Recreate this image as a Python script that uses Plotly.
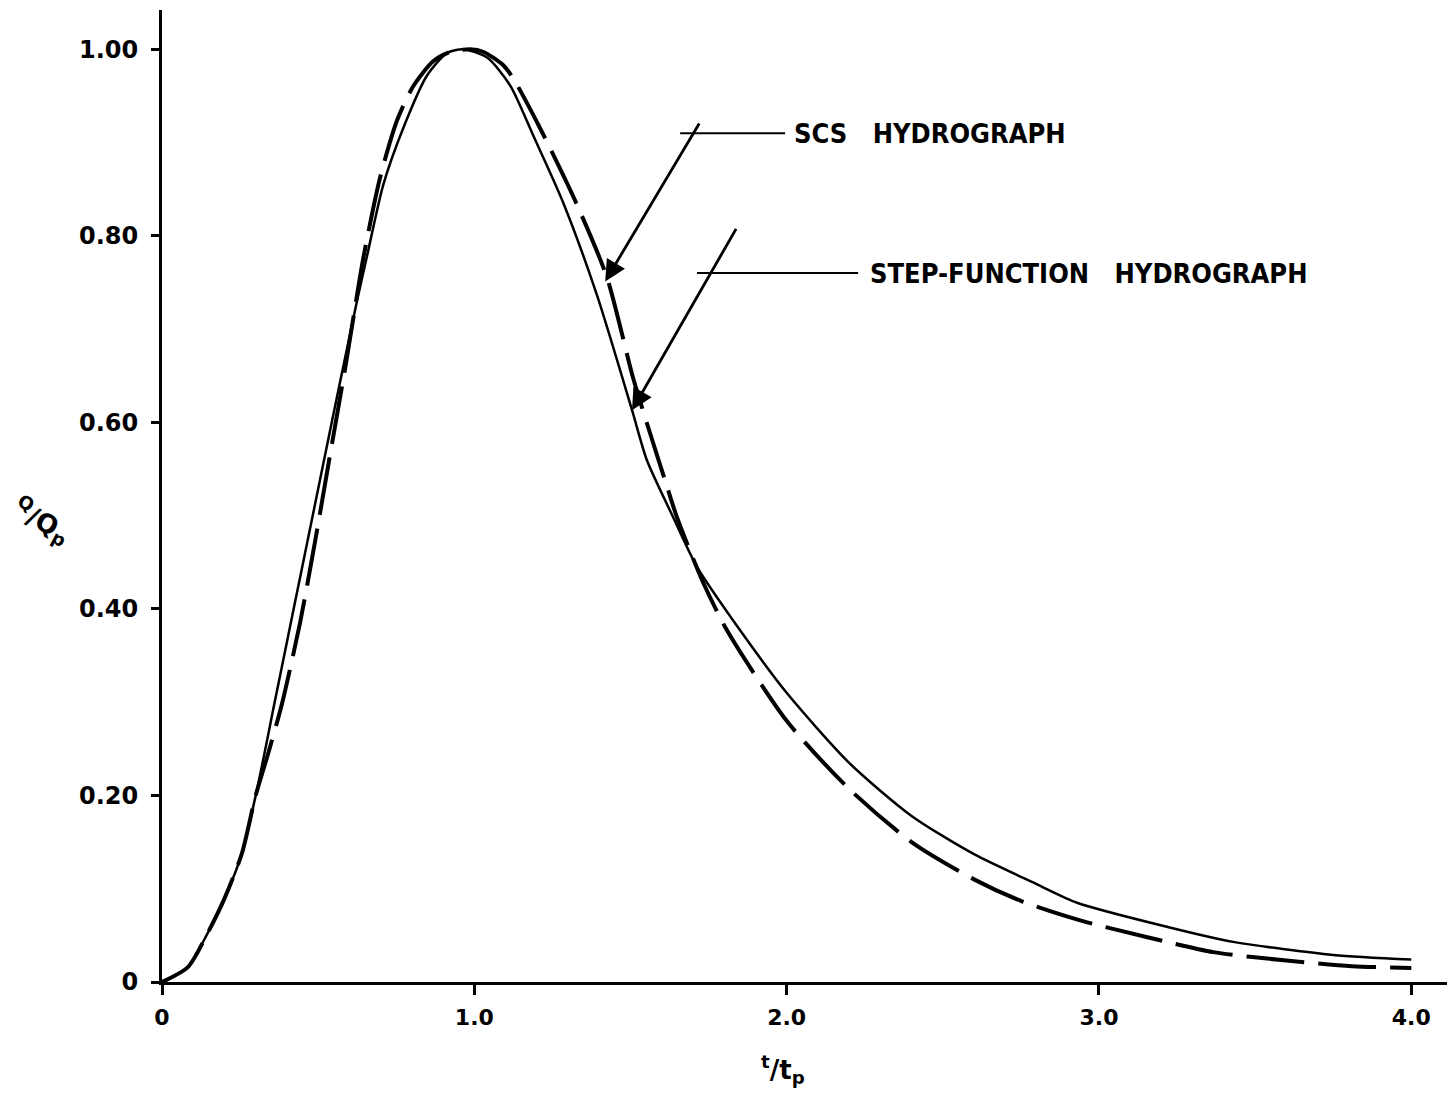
import plotly.graph_objects as go

# Step-function hydrograph (solid line)
step_t = [0, 0.083, 0.147, 0.202, 0.256, 0.304, 0.362, 0.427, 0.471, 0.521, 0.565, 0.625, 0.657,
          0.708, 0.772, 0.849, 0.913, 0.964, 1.041, 1.115, 1.188, 1.284, 1.393, 1.505, 1.553,
          1.637, 1.713, 1.851, 2.0, 2.2, 2.4, 2.6, 2.8, 2.93, 3.22, 3.43, 3.75, 4.0]
step_q = [0, 0.016, 0.053, 0.091, 0.138, 0.206, 0.302, 0.409, 0.481, 0.563, 0.635, 0.731, 0.779,
          0.854, 0.915, 0.972, 0.996, 1.0, 0.991, 0.961, 0.908, 0.836, 0.736, 0.613, 0.559,
          0.498, 0.445, 0.377, 0.31, 0.235, 0.178, 0.137, 0.105, 0.085, 0.059, 0.043, 0.029, 0.024]

# SCS hydrograph (dashed line)
scs_t = [0, 0.083, 0.147, 0.202, 0.256, 0.300, 0.340, 0.384, 0.442, 0.490, 0.538, 0.590, 0.644, 0.698,
         0.753, 0.804, 0.868, 0.922, 0.986, 1.03, 1.092, 1.124, 1.211, 1.329, 1.425, 1.508, 1.563,
         1.617, 1.649, 1.733, 1.809, 2.0, 2.2, 2.4, 2.6, 2.757, 2.94, 3.155, 3.366, 3.60, 3.81, 4.0]
scs_q = [0, 0.016, 0.053, 0.091, 0.138, 0.200, 0.245, 0.298, 0.385, 0.472, 0.565, 0.665, 0.775, 0.862,
         0.924, 0.960, 0.987, 0.997, 1.0, 0.997, 0.983, 0.969, 0.915, 0.833, 0.755, 0.648, 0.588,
         0.531, 0.498, 0.428, 0.377, 0.28, 0.207, 0.150, 0.110, 0.086, 0.066, 0.048, 0.032, 0.023, 0.017, 0.015]

x_ticks = [0, 1, 2, 3, 4]
x_ticklabels = ["0", "1.0", "2.0", "3.0", "4.0"]
y_ticks = [0, 0.2, 0.4, 0.6, 0.8, 1.0]
y_ticklabels = ["0", "0.20", "0.40", "0.60", "0.80", "1.00"]

FONT = "DejaVu Sans"
LABEL_FONT = "DejaVu Sans Condensed, DejaVu Sans"

fig = go.Figure()
fig.add_trace(go.Scatter(x=step_t, y=step_q, mode="lines",
                         line=dict(color="black", width=2.5, shape="spline", smoothing=0.7),
                         name="STEP-FUNCTION HYDROGRAPH"))
fig.add_trace(go.Scatter(x=scs_t, y=scs_q, mode="lines",
                         line=dict(color="black", width=4, dash="58px,14px", shape="spline", smoothing=0.7),
                         name="SCS HYDROGRAPH"))

# leader lines
fig.add_shape(type="line", x0=1.659, x1=1.995, y0=0.910, y1=0.910, line=dict(color="black", width=2))
fig.add_shape(type="line", x0=1.713, x1=2.229, y0=0.760, y1=0.760, line=dict(color="black", width=2))

# arrows
fig.add_annotation(x=1.419, y=0.751, ax=1.723, ay=0.922, xref="x", yref="y", axref="x", ayref="y",
                   showarrow=True, arrowhead=2, arrowsize=1.5, arrowwidth=2.8, arrowcolor="black",
                   text="", standoff=0)
fig.add_annotation(x=1.505, y=0.613, ax=1.841, ay=0.809, xref="x", yref="y", axref="x", ayref="y",
                   showarrow=True, arrowhead=2, arrowsize=1.5, arrowwidth=2.8, arrowcolor="black",
                   text="", standoff=0)

# labels
fig.add_annotation(x=2.018, y=0.910, xref="x", yref="y", text="SCS\u00a0\u00a0 HYDROGRAPH",
                   showarrow=False, xanchor="left", yanchor="middle",
                   font=dict(family=LABEL_FONT, size=27, color="black", weight="bold"))
fig.add_annotation(x=2.261, y=0.760, xref="x", yref="y", text="STEP-FUNCTION\u00a0\u00a0 HYDROGRAPH",
                   showarrow=False, xanchor="left", yanchor="middle",
                   font=dict(family=LABEL_FONT, size=27, color="black", weight="bold"))

# axis titles
fig.add_annotation(x=0.480, y=-0.0905, xref="paper", yref="paper", text="<sup>t</sup>/t<sub>p</sub>",
                   showarrow=False, xanchor="center", yanchor="middle",
                   font=dict(family=FONT, size=26, color="black", weight="bold"))
fig.add_annotation(x=-0.0928, y=0.475, xref="paper", yref="paper", text="<sup>Q</sup>/Q<sub>p</sub>",
                   showarrow=False, xanchor="center", yanchor="middle", textangle=28,
                   font=dict(family=FONT, size=26, color="black", weight="bold"))

fig.update_layout(
    width=1447, height=1087,
    margin=dict(l=154, r=0, t=2, b=113, autoexpand=False),
    plot_bgcolor="white", paper_bgcolor="white",
    showlegend=False,
    xaxis=dict(range=[0, 4.14], tickvals=x_ticks, ticktext=x_ticklabels,
               ticks="outside", ticklen=10, tickwidth=3, tickcolor="black",
               showline=True, linewidth=3, linecolor="black", automargin=False,
               showgrid=False, zeroline=False, ticklabelstandoff=4,
               tickfont=dict(family=FONT, size=22, color="black", weight="bold")),
    yaxis=dict(range=[0, 1.042], tickvals=y_ticks, ticktext=y_ticklabels,
               ticks="outside", ticklen=8, tickwidth=3, tickcolor="black",
               showline=True, linewidth=3, linecolor="black", automargin=False,
               showgrid=False, zeroline=False, ticklabelstandoff=8,
               tickfont=dict(family=FONT, size=24, color="black", weight="bold")),
)

fig.write_html("out.html")
